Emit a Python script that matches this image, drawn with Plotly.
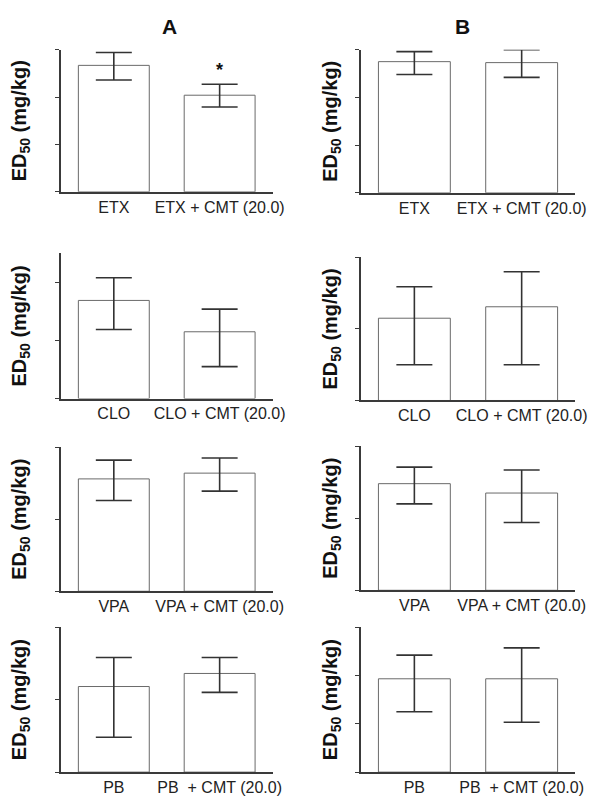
import plotly.graph_objects as go

# ---------------- data (arbitrary units; one unit = one y tick interval) ----------------
etx_labels = ["ETX", "ETX + CMT (20.0)"]
clo_labels = ["CLO", "CLO + CMT (20.0)"]
vpa_labels = ["VPA", "VPA + CMT (20.0)"]
pb_labels = ["PB", "PB  + CMT (20.0)"]

a_etx = [2.67, 2.04]
a_etx_plus = [0.27, 0.23]
a_etx_minus = [0.31, 0.25]
b_etx = [2.75, 2.73]
b_etx_plus = [0.21, 0.27]
b_etx_minus = [0.27, 0.31]

a_clo = [1.69, 1.15]
a_clo_plus = [0.39, 0.39]
a_clo_minus = [0.50, 0.60]
b_clo = [1.15, 1.31]
b_clo_plus = [0.44, 0.49]
b_clo_minus = [0.65, 0.81]

a_vpa = [1.56, 1.64]
a_vpa_plus = [0.26, 0.21]
a_vpa_minus = [0.30, 0.25]
b_vpa = [1.48, 1.35]
b_vpa_plus = [0.23, 0.32]
b_vpa_minus = [0.28, 0.41]

a_pb = [1.18, 1.36]
a_pb_plus = [0.40, 0.22]
a_pb_minus = [0.70, 0.26]
b_pb = [1.93, 1.93]
b_pb_plus = [0.49, 0.64]
b_pb_minus = [0.68, 0.90]

y_max = [3.0, 3.0, 2.5, 2.0, 2.0, 2.0, 2.0, 3.0]
column_titles = ["A", "B"]
y_title = "ED<sub>50</sub> (mg/kg)"

panels = [
    (etx_labels, a_etx, a_etx_plus, a_etx_minus),
    (etx_labels, b_etx, b_etx_plus, b_etx_minus),
    (clo_labels, a_clo, a_clo_plus, a_clo_minus),
    (clo_labels, b_clo, b_clo_plus, b_clo_minus),
    (vpa_labels, a_vpa, a_vpa_plus, a_vpa_minus),
    (vpa_labels, b_vpa, b_vpa_plus, b_vpa_minus),
    (pb_labels, a_pb, a_pb_plus, a_pb_minus),
    (pb_labels, b_pb, b_pb_plus, b_pb_minus),
]

# ---------------- layout geometry ----------------
# page pixels; the html body adds an 8px margin, so figure coords = page - OFF
OFF = 8
W, H = 594, 788
col_x = [(62, 278), (368, 587)]
row_y = [[(50, 193), (50, 194)], [(255, 401), (259, 403)],
         [(450, 595), (449, 594)], [(631, 777), (631, 777)]]


def px_x(p):
    return (p - OFF) / W


def px_y(p):
    return 1 - (p - OFF) / H


fig = go.Figure()
layout = dict(
    width=W, height=H,
    margin=dict(l=0, r=0, t=0, b=0),
    paper_bgcolor="white", plot_bgcolor="white",
    showlegend=False,
    font=dict(family="Liberation Sans, Arial, sans-serif", color="#222"),
)

FONT = "Liberation Sans, Arial, sans-serif"
axis_color = "#3a3a3a"
for i, (labels, vals, plus, minus) in enumerate(panels):
    r, c = divmod(i, 2)
    n = i + 1
    xa = "x" if n == 1 else f"x{n}"
    ya = "y" if n == 1 else f"y{n}"
    fig.add_trace(go.Bar(
        x=labels, y=vals, xaxis=xa, yaxis=ya, width=0.67,
        marker=dict(color="white", line=dict(color="#6a6a6a", width=1)),
        error_y=dict(type="data", symmetric=False, array=plus, arrayminus=minus,
                     color="#333", thickness=1.6, width=18),
        hoverinfo="skip",
    ))
    x0, x1 = col_x[c]
    y0, y1 = row_y[r][c]
    xkey = "xaxis" if n == 1 else f"xaxis{n}"
    ykey = "yaxis" if n == 1 else f"yaxis{n}"
    layout[xkey] = dict(
        domain=[px_x(x0), px_x(x1)], anchor=ya, range=[-0.5, 1.5],
        showline=True, linecolor=axis_color, linewidth=1.5,
        ticks="", showgrid=False, zeroline=False,
        tickfont=dict(size=16, color="#222", family=FONT), fixedrange=True,
    )
    layout[ykey] = dict(
        domain=[px_y(y1), px_y(y0)], anchor=xa, range=[0, y_max[i]],
        showline=True, linecolor=axis_color, linewidth=1.5,
        ticks="outside", ticklen=4, tickcolor=axis_color, tickwidth=1.2,
        tick0=0, dtick=1, showticklabels=False, showgrid=False, zeroline=False,
        title=dict(text=y_title, font=dict(size=20, color="#111", family=FONT, weight="bold"),
                   standoff=26 if c == 0 else 12),
        fixedrange=True,
    )

fig.update_layout(**layout)

annotations = [
    dict(text="<b>A</b>", x=px_x(173), y=px_y(27), xref="paper", yref="paper",
         xanchor="center", yanchor="middle",
         showarrow=False, font=dict(size=21, color="#111", family=FONT)),
    dict(text="<b>B</b>", x=px_x(472), y=px_y(27), xref="paper", yref="paper",
         xanchor="center", yanchor="middle",
         showarrow=False, font=dict(size=21, color="#111", family=FONT)),
    dict(text="<b>*</b>", x=etx_labels[1], y=a_etx[1] + a_etx_plus[1] + 0.30,
         xref="x", yref="y", showarrow=False, font=dict(size=18, color="#111", family=FONT)),
]
fig.update_layout(annotations=annotations)

fig.write_html("out.html")
